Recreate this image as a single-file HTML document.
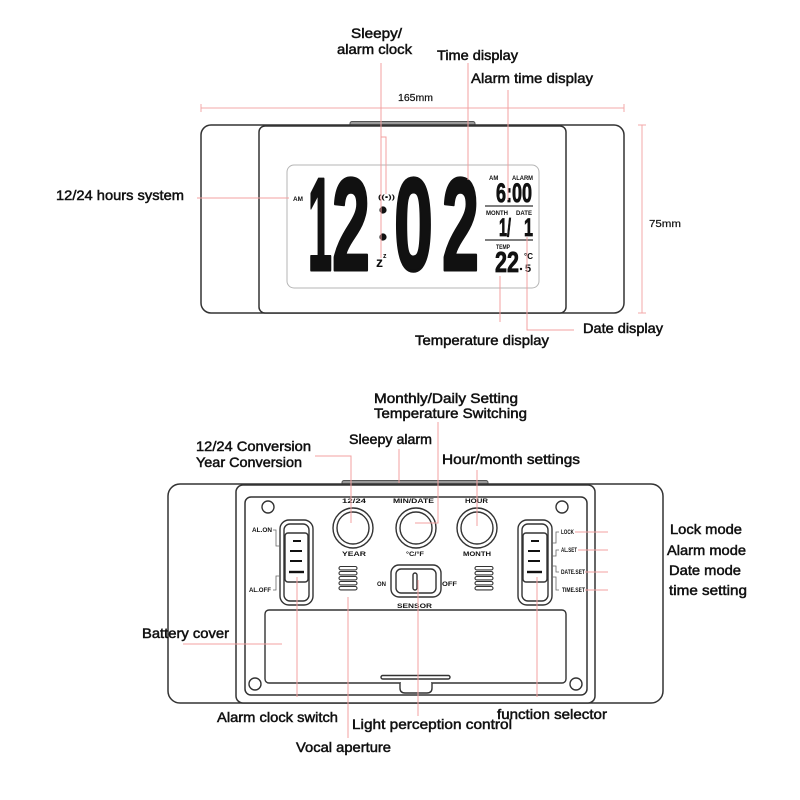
<!DOCTYPE html>
<html><head><meta charset="utf-8"><style>
html,body{margin:0;padding:0;background:#fff;}
svg{display:block;}
text{font-family:"Liberation Sans",sans-serif;fill:#111;}
.lb{font-size:14px;stroke:#111;stroke-width:0.5px;}
.sm{font-size:6px;font-weight:bold;}
.dg{font-weight:bold;stroke:#111;stroke-width:3px;stroke-linejoin:round;}
</style></head><body>
<svg width="800" height="800" viewBox="0 0 800 800" xmlns="http://www.w3.org/2000/svg">
<!-- ================= TOP VIEW ================= -->
<g fill="none" stroke="#f3a9a9" stroke-width="1">
  <line x1="201" y1="108" x2="624" y2="108"/>
  <line x1="201" y1="104" x2="201" y2="112"/>
  <line x1="624" y1="104" x2="624" y2="112"/>
  <line x1="642" y1="125" x2="642" y2="313"/>
  <line x1="638" y1="125" x2="646" y2="125"/>
  <line x1="638" y1="313" x2="646" y2="313"/>
</g>
<rect x="350" y="121.5" width="125" height="5" rx="2" fill="#9a9a9a" stroke="#555" stroke-width="1"/>
<rect x="201" y="125" width="423" height="188" rx="10" fill="#fff" stroke="#333" stroke-width="1.5"/>
<rect x="259" y="126" width="307" height="187" rx="6" fill="#fff" stroke="#333" stroke-width="1.5"/>
<rect x="287" y="165" width="252" height="123" rx="7" fill="#fff" stroke="#b5b5b5" stroke-width="1"/>
<text class="sm" x="293" y="201" font-size="7" textLength="10" lengthAdjust="spacingAndGlyphs">AM</text>
<text class="dg" x="308" y="270" font-size="132" textLength="24" lengthAdjust="spacingAndGlyphs">1</text>
<text class="dg" x="332" y="270" font-size="132" textLength="38" lengthAdjust="spacingAndGlyphs">2</text>
<circle cx="383" cy="210" r="3.6" fill="#111"/>
<circle cx="383" cy="237" r="3.6" fill="#111"/>
<text class="dg" x="394" y="270" font-size="132" textLength="39" lengthAdjust="spacingAndGlyphs">0</text>
<text class="dg" x="442" y="270" font-size="132" textLength="37" lengthAdjust="spacingAndGlyphs">2</text>
<text x="378" y="199" font-size="6" font-weight="bold" textLength="17" lengthAdjust="spacingAndGlyphs">((•))</text>
<text x="376" y="267" font-size="14" font-weight="bold">z</text>
<text x="383" y="258" font-size="7" font-weight="bold">z</text>
<text class="sm" x="489" y="180">AM</text>
<text class="sm" x="512" y="180" textLength="21" lengthAdjust="spacingAndGlyphs">ALARM</text>
<text x="496" y="202" font-size="27" font-weight="bold" textLength="36" lengthAdjust="spacingAndGlyphs" stroke="#111" stroke-width="0.8">6:00</text>
<line x1="485" y1="206" x2="533" y2="206" stroke="#555" stroke-width="1.6"/>
<text class="sm" x="486" y="215" textLength="22" lengthAdjust="spacingAndGlyphs">MONTH</text>
<text class="sm" x="516" y="215" textLength="16" lengthAdjust="spacingAndGlyphs">DATE</text>
<text x="499" y="236" font-size="25" font-weight="bold" textLength="12" lengthAdjust="spacingAndGlyphs" stroke="#111" stroke-width="0.8">1/</text>
<text x="524" y="236" font-size="25" font-weight="bold" textLength="9" lengthAdjust="spacingAndGlyphs" stroke="#111" stroke-width="0.8">1</text>
<line x1="485" y1="240" x2="533" y2="240" stroke="#555" stroke-width="1.6"/>
<text class="sm" x="496" y="249" textLength="14" lengthAdjust="spacingAndGlyphs">TEMP</text>
<text x="495" y="272" font-size="29" font-weight="bold" textLength="24" lengthAdjust="spacingAndGlyphs" stroke="#111" stroke-width="0.8">22</text>
<circle cx="521" cy="269" r="1.2" fill="#111"/>
<text x="524" y="259" font-size="8" font-weight="bold">°C</text>
<text x="525" y="272" font-size="11" font-weight="bold">5</text>
<g fill="none" stroke="#f3a0a0" stroke-width="1">
  <line x1="381" y1="63" x2="381" y2="258"/>
  <polyline points="381,137 386,137 386,194"/>
  <line x1="468" y1="63" x2="468" y2="180"/>
  <line x1="508" y1="90" x2="508" y2="200"/>
  <line x1="197" y1="198" x2="289" y2="198"/>
  <line x1="500" y1="276" x2="500" y2="322"/>
  <polyline points="527,237 527,330 574,330"/>
</g>
<text class="lb" x="351" y="38" textLength="51" lengthAdjust="spacingAndGlyphs">Sleepy/</text>
<text class="lb" x="337" y="54" textLength="75" lengthAdjust="spacingAndGlyphs">alarm clock</text>
<text class="lb" x="437" y="60" textLength="81" lengthAdjust="spacingAndGlyphs">Time display</text>
<text class="lb" x="471" y="83" textLength="122" lengthAdjust="spacingAndGlyphs">Alarm time display</text>
<text x="398" y="101" font-size="10" textLength="35" lengthAdjust="spacingAndGlyphs" stroke="#111" stroke-width="0.2">165mm</text>
<text x="649" y="227" font-size="10" textLength="32" lengthAdjust="spacingAndGlyphs" stroke="#111" stroke-width="0.2">75mm</text>
<text class="lb" x="56" y="200" textLength="128" lengthAdjust="spacingAndGlyphs">12/24 hours system</text>
<text class="lb" x="583" y="333" textLength="80" lengthAdjust="spacingAndGlyphs">Date display</text>
<text class="lb" x="415" y="345" textLength="134" lengthAdjust="spacingAndGlyphs">Temperature display</text>

<!-- ================= BACK VIEW ================= -->
<rect x="342" y="480.5" width="146" height="5" rx="2" fill="#9a9a9a" stroke="#555" stroke-width="1"/>
<rect x="168" y="484" width="495" height="219" rx="12" fill="#fff" stroke="#333" stroke-width="1.5"/>
<rect x="236" y="485" width="359" height="218" rx="7" fill="#fff" stroke="#333" stroke-width="1.5"/>
<rect x="245" y="497" width="342" height="198" rx="6" fill="#fff" stroke="#333" stroke-width="1.5"/>
<g fill="#fff" stroke="#333" stroke-width="1.4">
  <circle cx="268" cy="507" r="6"/>
  <circle cx="562" cy="507" r="6"/>
  <circle cx="255" cy="684" r="6"/>
  <circle cx="576" cy="684" r="6"/>
  <circle cx="353" cy="528" r="20"/>
  <circle cx="353" cy="528" r="16"/>
  <circle cx="416" cy="528" r="20"/>
  <circle cx="416" cy="528" r="16"/>
  <circle cx="477" cy="528" r="20"/>
  <circle cx="477" cy="528" r="16"/>
  <rect x="280" y="520" width="33" height="85" rx="9"/>
  <rect x="284" y="524" width="25" height="77" rx="6"/>
  <rect x="285" y="533" width="23" height="49" rx="3"/>
  <rect x="518" y="520" width="34" height="85" rx="9"/>
  <rect x="522" y="524" width="26" height="77" rx="6"/>
  <rect x="523" y="533" width="24" height="49" rx="3"/>
  <rect x="391" y="565" width="50" height="32" rx="8"/>
  <rect x="396" y="569" width="40" height="24" rx="5"/>
  <rect x="413" y="573" width="4" height="17" rx="2"/>
  <rect x="265" y="610" width="301" height="73" rx="4"/>
  <rect x="381" y="675.5" width="69" height="3.5" rx="1.7"/>
  <path d="M400 683 v5 q0 5 5 5 h22 q5 0 5 -5 v-5"/>
</g>
<line x1="401" y1="683" x2="431" y2="683" stroke="#fff" stroke-width="2"/>
<g fill="#fff" stroke="#333" stroke-width="1.1">
  <rect x="339" y="566.5" width="18" height="3.4" rx="1.7"/>
  <rect x="339" y="571.5" width="18" height="3.4" rx="1.7"/>
  <rect x="339" y="576.5" width="18" height="3.4" rx="1.7"/>
  <rect x="339" y="581.5" width="18" height="3.4" rx="1.7"/>
  <rect x="339" y="586.5" width="18" height="3.4" rx="1.7"/>
  <rect x="475" y="566.5" width="18" height="3.4" rx="1.7"/>
  <rect x="475" y="571.5" width="18" height="3.4" rx="1.7"/>
  <rect x="475" y="576.5" width="18" height="3.4" rx="1.7"/>
  <rect x="475" y="581.5" width="18" height="3.4" rx="1.7"/>
  <rect x="475" y="586.5" width="18" height="3.4" rx="1.7"/>
</g>
<g stroke="#111" stroke-width="2">
  <line x1="293" y1="541" x2="301" y2="541"/>
  <line x1="290" y1="551" x2="302" y2="551"/>
  <line x1="290" y1="561" x2="302" y2="561"/>
  <line x1="289" y1="572" x2="304" y2="572" stroke-width="2.4"/>
  <line x1="531" y1="541" x2="539" y2="541"/>
  <line x1="528" y1="551" x2="540" y2="551"/>
  <line x1="528" y1="561" x2="540" y2="561"/>
  <line x1="527" y1="572" x2="542" y2="572" stroke-width="2.4"/>
</g>
<g fill="none" stroke="#666" stroke-width="0.8">
  <polyline points="273,530 276,530 276,546 280,546"/>
  <polyline points="273,590 276,590 276,576 280,576"/>
  <polyline points="559,532 556,532 556,543 552,543"/>
  <polyline points="559,550 556,550 556,556 552,556"/>
  <polyline points="559,572 556,572 556,566 552,566"/>
  <polyline points="559,590 556,590 556,577 552,577"/>
</g>
<text class="sm" x="252" y="532" font-size="6.5" textLength="20" lengthAdjust="spacingAndGlyphs">AL.ON</text>
<text class="sm" x="249" y="592" font-size="6.5" textLength="22" lengthAdjust="spacingAndGlyphs">AL.OFF</text>
<text class="sm" x="342" y="503" font-size="7" textLength="24" lengthAdjust="spacingAndGlyphs">12/24</text>
<text class="sm" x="393" y="503" font-size="7" textLength="41" lengthAdjust="spacingAndGlyphs">MIN/DATE</text>
<text class="sm" x="465" y="503" font-size="7" textLength="23" lengthAdjust="spacingAndGlyphs">HOUR</text>
<text class="sm" x="342" y="556" font-size="7" textLength="24" lengthAdjust="spacingAndGlyphs">YEAR</text>
<text class="sm" x="406" y="556" font-size="7" textLength="18" lengthAdjust="spacingAndGlyphs">°C/°F</text>
<text class="sm" x="463" y="556" font-size="7" textLength="28" lengthAdjust="spacingAndGlyphs">MONTH</text>
<text class="sm" x="377" y="586" font-size="7" textLength="9" lengthAdjust="spacingAndGlyphs">ON</text>
<text class="sm" x="442" y="586" font-size="7" textLength="15" lengthAdjust="spacingAndGlyphs">OFF</text>
<text class="sm" x="397" y="608" font-size="7" textLength="35" lengthAdjust="spacingAndGlyphs">SENSOR</text>
<text class="sm" x="561" y="534" font-size="5.5" textLength="13" lengthAdjust="spacingAndGlyphs">LOCK</text>
<text class="sm" x="561" y="552" font-size="5.5" textLength="16" lengthAdjust="spacingAndGlyphs">AL.SET</text>
<text class="sm" x="561" y="574" font-size="5.5" textLength="24" lengthAdjust="spacingAndGlyphs">DATE.SET</text>
<text class="sm" x="562" y="592" font-size="5.5" textLength="23" lengthAdjust="spacingAndGlyphs">TIME.SET</text>
<g fill="none" stroke="#f3a0a0" stroke-width="1">
  <polyline points="315,456 351,456 351,523"/>
  <line x1="399" y1="449" x2="399" y2="483"/>
  <polyline points="438,422 438,523 415,523"/>
  <line x1="477" y1="470" x2="477" y2="526"/>
  <line x1="183" y1="644" x2="282" y2="644"/>
  <line x1="297" y1="577" x2="297" y2="697"/>
  <line x1="348" y1="597" x2="348" y2="738"/>
  <line x1="418" y1="580" x2="418" y2="716"/>
  <line x1="537" y1="577" x2="537" y2="697"/>
  <line x1="575" y1="532" x2="608" y2="532"/>
  <line x1="578" y1="550" x2="608" y2="550"/>
  <line x1="585" y1="572" x2="608" y2="572"/>
  <line x1="585" y1="590" x2="608" y2="590"/>
</g>
<text class="lb" x="374" y="403" textLength="144" lengthAdjust="spacingAndGlyphs">Monthly/Daily Setting</text>
<text class="lb" x="374" y="418" textLength="153" lengthAdjust="spacingAndGlyphs">Temperature Switching</text>
<text class="lb" x="349" y="444" textLength="83" lengthAdjust="spacingAndGlyphs">Sleepy alarm</text>
<text class="lb" x="196" y="451" textLength="115" lengthAdjust="spacingAndGlyphs">12/24 Conversion</text>
<text class="lb" x="196" y="467" textLength="106" lengthAdjust="spacingAndGlyphs">Year Conversion</text>
<text class="lb" x="442" y="464" textLength="138" lengthAdjust="spacingAndGlyphs">Hour/month settings</text>
<text class="lb" x="670" y="534" font-size="15" textLength="72" lengthAdjust="spacingAndGlyphs">Lock mode</text>
<text class="lb" x="667" y="555" font-size="15" textLength="79" lengthAdjust="spacingAndGlyphs">Alarm mode</text>
<text class="lb" x="669" y="575" font-size="15" textLength="72" lengthAdjust="spacingAndGlyphs">Date mode</text>
<text class="lb" x="669" y="595" font-size="15" textLength="78" lengthAdjust="spacingAndGlyphs">time setting</text>
<text class="lb" x="142" y="638" textLength="87" lengthAdjust="spacingAndGlyphs">Battery cover</text>
<text class="lb" x="217" y="722" textLength="121" lengthAdjust="spacingAndGlyphs">Alarm clock switch</text>
<text class="lb" x="352" y="729" textLength="160" lengthAdjust="spacingAndGlyphs">Light perception control</text>
<text class="lb" x="497" y="719" textLength="110" lengthAdjust="spacingAndGlyphs">function selector</text>
<text class="lb" x="296" y="752" textLength="95" lengthAdjust="spacingAndGlyphs">Vocal aperture</text>
</svg>
</body></html>
